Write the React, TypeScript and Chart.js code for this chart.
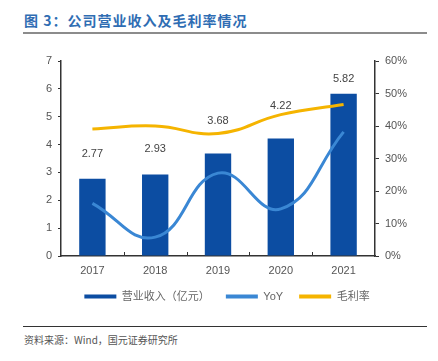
import React, { useEffect, useRef } from "react";
import { Chart, registerables } from "chart.js";

Chart.register(...registerables);

const years = ["2017", "2018", "2019", "2020", "2021"];
const revenue = [2.77, 2.93, 3.68, 4.22, 5.82];
const yoy = [16.2, 5.8, 25.5, 14.5, 38.2];
const grossMargin = [39.1, 40.0, 37.7, 43.5, 46.6];
const leftTicks = [0, 1, 2, 3, 4, 5, 6, 7];
const rightTicks = [0, 10, 20, 30, 40, 50, 60];
const labelOffsets = [25, 25, 33, 32, 15];

const FONT = "'Liberation Sans', Arial, 'Noto Sans CJK SC', sans-serif";

const barLabelPlugin = {
  id: "barLabels",
  afterDatasetsDraw(chart: any) {
    const ctx = chart.ctx;
    const meta = chart.getDatasetMeta(0);
    ctx.save();
    ctx.font = `11px ${FONT}`;
    ctx.fillStyle = "#444";
    ctx.textAlign = "center";
    ctx.textBaseline = "middle";
    meta.data.forEach((el: any, i: number) => {
      ctx.fillText(revenue[i].toFixed(2), el.x, el.y - labelOffsets[i]);
    });
    ctx.restore();
  },
};

const xTickPlugin = {
  id: "xTicks",
  afterDraw(chart: any) {
    const ctx = chart.ctx;
    const x = chart.scales.x;
    const bottom = chart.chartArea.bottom;
    ctx.save();
    ctx.strokeStyle = "#333";
    ctx.lineWidth = 1;
    for (let i = 0; i < years.length - 1; i++) {
      const px = Math.round((x.getPixelForValue(i) + x.getPixelForValue(i + 1)) / 2) + 0.5;
      ctx.beginPath();
      ctx.moveTo(px, bottom);
      ctx.lineTo(px, bottom - 4);
      ctx.stroke();
    }
    ctx.restore();
  },
};

export default function App() {
  const ref = useRef<HTMLCanvasElement>(null);
  useEffect(() => {
    if (!ref.current) return;
    const chart = new Chart(ref.current, {
      type: "bar",
      data: {
        labels: years,
        datasets: [
          {
            type: "bar",
            label: "营业收入（亿元）",
            data: revenue,
            backgroundColor: "#0c4da2",
            borderWidth: 0,
            barPercentage: 0.42,
            categoryPercentage: 1,
            yAxisID: "y",
            order: 2,
          },
          {
            type: "line",
            label: "YoY",
            data: yoy,
            borderColor: "#3a87d4",
            backgroundColor: "#3a87d4",
            borderWidth: 3,
            pointRadius: 0,
            tension: 0.45,
            yAxisID: "y1",
            order: 1,
          },
          {
            type: "line",
            label: "毛利率",
            data: grossMargin,
            borderColor: "#f5b400",
            backgroundColor: "#f5b400",
            borderWidth: 3,
            pointRadius: 0,
            tension: 0.45,
            yAxisID: "y1",
            order: 0,
          },
        ] as any,
      },
      options: {
        animation: false,
        responsive: false,
        maintainAspectRatio: false,
        layout: { padding: { top: 21, left: 16, right: 0, bottom: 10 } },
        plugins: {
          tooltip: { enabled: false },
          legend: {
            position: "bottom",
            labels: {
              boxWidth: 32,
              boxHeight: 4,
              padding: 16,
              color: "#666",
              font: { family: FONT, size: 11 },
              generateLabels: (chart: any) =>
                chart.data.datasets.map((d: any, i: number) => ({
                  text: d.label,
                  fillStyle: d.backgroundColor,
                  strokeStyle: d.backgroundColor,
                  lineWidth: 0,
                  fontColor: "#666",
                  datasetIndex: i,
                  hidden: false,
                })),
            },
          },
        },
        scales: {
          x: {
            grid: { display: false },
            border: { color: "#333", width: 1.5 },
            ticks: { color: "#555", font: { family: FONT, size: 11 }, padding: 0 },
            afterFit: (s: any) => {
              s.height = 19;
            },
          },
          y: {
            position: "left",
            min: 0,
            max: 7,
            afterBuildTicks: (s: any) => {
              s.ticks = leftTicks.map((v) => ({ value: v }));
            },
            grid: { drawOnChartArea: false, tickLength: 3, color: "#333" },
            border: { color: "#333", width: 1.5 },
            ticks: { color: "#555", font: { family: FONT, size: 11 }, padding: 6 },
            afterFit: (s: any) => {
              s.width = 45;
            },
          },
          y1: {
            position: "right",
            min: 0,
            max: 60,
            afterBuildTicks: (s: any) => {
              s.ticks = rightTicks.map((v) => ({ value: v }));
            },
            grid: { drawOnChartArea: false, tickLength: 4, color: "#333" },
            border: { color: "#333", width: 1.5 },
            ticks: {
              color: "#555",
              font: { family: FONT, size: 11 },
              padding: 6,
              callback: (v: any) => `${v}%`,
            },
            afterFit: (s: any) => {
              s.width = 63;
            },
          },
        },
      } as any,
      plugins: [barLabelPlugin, xTickPlugin],
    });
    return () => chart.destroy();
  }, []);

  return (
    <div
      style={{
        position: "fixed",
        left: 0,
        top: 0,
        width: 438,
        height: 361,
        background: "#fff",
        fontFamily: "'Noto Sans CJK SC', sans-serif",
      }}
    >
      <div
        style={{
          position: "absolute",
          left: 24,
          top: 11,
          fontSize: 14,
          fontWeight: 700,
          letterSpacing: 1,
          color: "#2f6db3",
          lineHeight: "18px",
          whiteSpace: "nowrap",
        }}
      >
        图 3：公司营业收入及毛利率情况
      </div>
      <div
        style={{
          position: "absolute",
          left: 23,
          top: 32,
          width: 404,
          height: 2,
          background: "#8c8c8c",
        }}
      />
      <canvas
        ref={ref}
        width={438}
        height={282}
        style={{ position: "absolute", left: 0, top: 40, width: 438, height: 282 }}
      />
      <div
        style={{
          position: "absolute",
          left: 23,
          top: 326,
          width: 404,
          height: 1,
          background: "#333",
        }}
      />
      <div
        style={{
          position: "absolute",
          left: 24,
          top: 333,
          fontSize: 10,
          color: "#555",
          lineHeight: "14px",
          whiteSpace: "nowrap",
        }}
      >
        资料来源：Wind，国元证券研究所
      </div>
    </div>
  );
}
